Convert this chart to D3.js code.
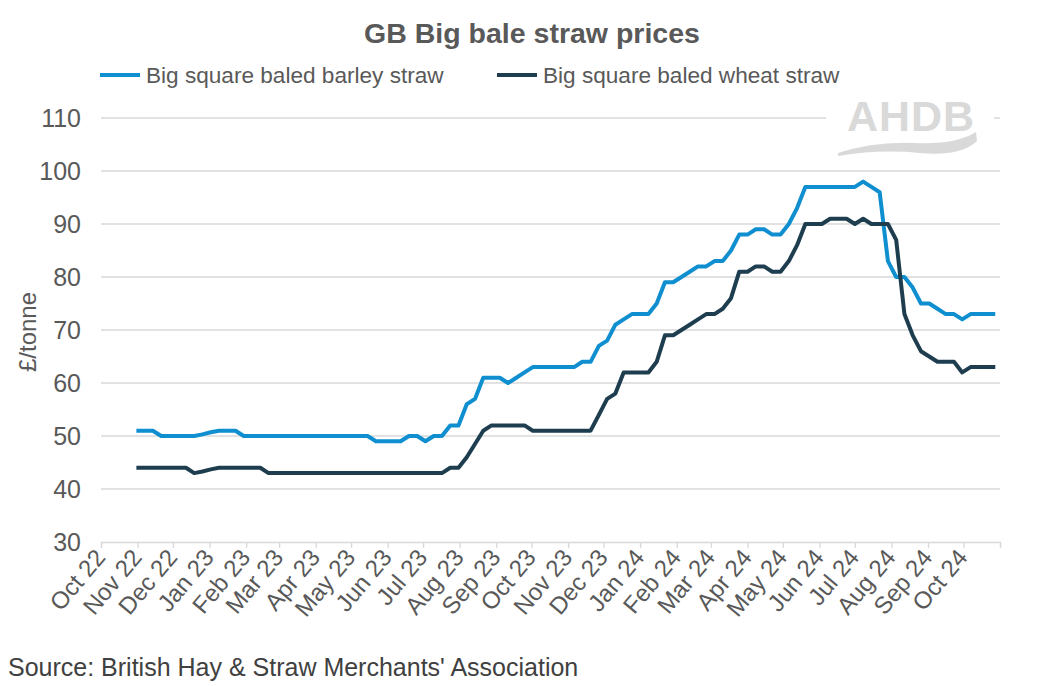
<!DOCTYPE html>
<html><head><meta charset="utf-8">
<script src="https://cdn.jsdelivr.net/npm/d3@7"></script>
<style>body{margin:0;background:#fff}svg{display:block;font-family:"Liberation Sans",Arial,sans-serif}</style>
</head><body><svg id="c" width="1063" height="686"></svg>
<script>
const title = "GB Big bale straw prices";
const seriesNames = ["Big square baled barley straw", "Big square baled wheat straw"];
const seriesColors = ["#0f8fd0", "#1e3e4f"];
const firstWeek = "2022-10-31";
const barley = [51,51,51,50,50,50,50,50,50.3,50.7,51,51,51,
  50,50,50,50,50,50,50,50,50,50,50,50,50,50,50,50,
  49,49,49,49,50,50,49,50,50,52,52,56,57,61,61,61,60,61,62,
  63,63,63,63,63,63,64,64,67,68,71,72,73,73,73,75,79,79,80,81,82,82,83,83,
  85,88,88,89,89,88,88,90,93,97,97,97,97,97,97,97,98,97,96,
  83,80,80,78,75,75,74,73,73,72,73,73,73,73];
const wheat = [44,44,44,44,44,44,44,43,43.3,43.7,44,44,44,44,44,44,
  43,43,43,43,43,43,43,43,43,43,43,43,43,43,43,43,43,43,43,43,43,43,
  44,44,46,48.5,51,52,52,52,52,52,51,51,51,51,51,51,51,51,
  54,57,58,62,62,62,62,64,69,69,70,71,72,73,73,74,76,81,81,82,82,81,81,83,86,
  90,90,90,91,91,91,90,91,90,90,90,87,73,69,66,65,64,64,64,62,63,63,63,63];
const yTicks = [30,40,50,60,70,80,90,100,110];
const monthLabels = ["Oct 22","Nov 22","Dec 22","Jan 23","Feb 23","Mar 23","Apr 23","May 23","Jun 23","Jul 23","Aug 23","Sep 23","Oct 23","Nov 23","Dec 23","Jan 24","Feb 24","Mar 24","Apr 24","May 24","Jun 24","Jul 24","Aug 24","Sep 24","Oct 24",""];
const yLabel = "£/tonne";
const source = "Source: British Hay & Straw Merchants' Association";

const svg = d3.select("#c");
const parse = d3.timeParse("%Y-%m-%d");
const start = parse(firstWeek);
const dates = barley.map((_, i) => d3.timeDay.offset(start, 7 * i));
const axisStart = new Date(2022, 9, 1), axisEnd = new Date(2024, 10, 1);
const x = d3.scaleTime().domain([axisStart, axisEnd]).range([101, 1000]);
const y = d3.scaleLinear().domain([30, 110]).range([542, 118]);
const grey = "#595959";

// gridlines
svg.append("g").selectAll("line").data(yTicks.slice(1)).join("line")
  .attr("x1", 101).attr("x2", 1000).attr("y1", d => y(d)).attr("y2", d => y(d))
  .attr("stroke", "#d9d9d9").attr("stroke-width", 1.3);

// x axis
const months = d3.timeMonth.range(axisStart, d3.timeDay.offset(axisEnd, 1));
const xAxis = d3.axisBottom(x).tickValues(months).tickSize(6).tickFormat((d, i) => monthLabels[i]);
const gx = svg.append("g").attr("transform", `translate(0,${y(30)})`).call(xAxis);
gx.select(".domain").attr("stroke", "#d9d9d9").attr("stroke-width", 1.3);
gx.selectAll(".tick line").attr("stroke", "#d9d9d9").attr("stroke-width", 1.3);
gx.selectAll(".tick text").attr("font-size", 24).attr("fill", grey).attr("font-family", "Liberation Sans, Arial")
  .attr("text-anchor", "end").attr("dy", null).attr("y", 0).attr("x", 0)
  .attr("transform", "translate(5,16) rotate(-50)");

// y axis labels
const yAxis = d3.axisLeft(y).tickValues(yTicks).tickSize(0).tickPadding(0);
const gy = svg.append("g").attr("transform", "translate(81,0)").call(yAxis);
gy.select(".domain").remove();
gy.selectAll(".tick text").attr("font-size", 25).attr("fill", grey).attr("font-family", "Liberation Sans, Arial");

svg.append("text").attr("transform", "translate(36,332) rotate(-90)").attr("text-anchor", "middle")
  .attr("font-size", 24).attr("fill", grey).text(yLabel);

// logo
const logo = svg.append("g");
logo.append("rect").attr("x", 826).attr("y", 95).attr("width", 168).attr("height", 65).attr("fill", "#fff");
logo.append("text").attr("x", 911).attr("y", 131).attr("text-anchor", "middle").attr("font-size", 43)
  .attr("font-weight", "bold").attr("fill", "#d9d9d9").attr("letter-spacing", 1).text("AHDB");
logo.append("path").attr("d", "M838,153 Q875,141 915,143 Q955,145 976,132 L977,141 Q960,157 920,153 Q880,149 838,156 Z")
  .attr("fill", "#d9d9d9");

// lines
const line = d3.line().x((d, i) => x(dates[i])).y(d => y(d));
[barley, wheat].forEach((s, k) => {
  svg.append("path").datum(s).attr("d", line).attr("fill", "none")
    .attr("stroke", seriesColors[k]).attr("stroke-width", 4).attr("stroke-linejoin", "round");
});

// title
svg.append("text").attr("x", 532).attr("y", 43).attr("text-anchor", "middle").attr("font-size", 28.5)
  .attr("font-weight", "bold").attr("fill", grey).text(title);

// legend
const legX = [100, 497];
seriesNames.forEach((n, k) => {
  svg.append("line").attr("x1", legX[k]).attr("x2", legX[k] + 40).attr("y1", 75).attr("y2", 75)
    .attr("stroke", seriesColors[k]).attr("stroke-width", 4);
  svg.append("text").attr("x", legX[k] + 46).attr("y", 83).attr("font-size", 22.6).attr("fill", grey).text(n);
});

// source
svg.append("text").attr("x", 8).attr("y", 676).attr("font-size", 25).attr("fill", "#404040").text(source);
</script></body></html>
